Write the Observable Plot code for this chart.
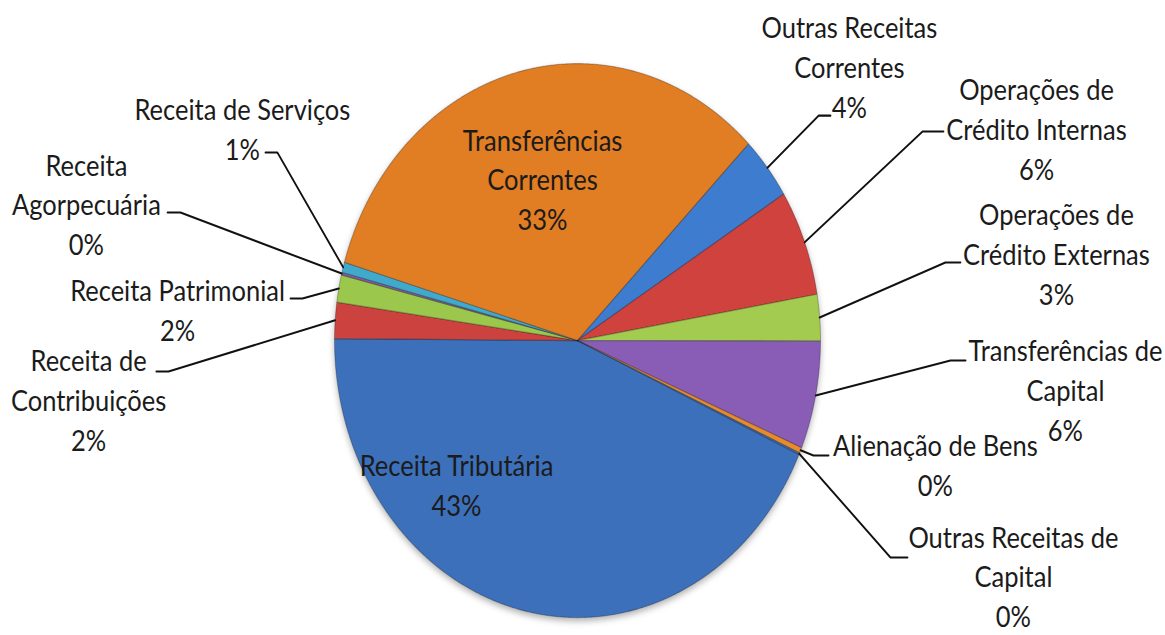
<!DOCTYPE html>
<html><head><meta charset="utf-8">
<script src="https://cdn.jsdelivr.net/npm/d3@7"></script>
<script src="https://cdn.jsdelivr.net/npm/@observablehq/plot@0.6"></script>
<style>
html,body{margin:0;padding:0;background:#fff;overflow:hidden}
#chart{width:1165px;height:635px;overflow:hidden}
#chart svg{transform-origin:0 0;transform:scaleY(1.14);display:block}
</style></head><body><div id="chart"></div>
<script>
// ---- data ----
const categories = ["Receita Tributária","Receita de Contribuições","Receita Patrimonial","Receita Agorpecuária","Receita de Serviços","Transferências Correntes","Outras Receitas Correntes","Operações de Crédito Internas","Operações de Crédito Externas","Transferências de Capital","Alienação de Bens","Outras Receitas de Capital"];
const values = [43.4, 2.1, 1.6, 0.15, 0.6, 32.9, 3.7, 6.2, 2.7, 6.3, 0.33, 0.1];
const colors = ["#3c70ba","#cb423f","#9cc74d","#7f5fa8","#41a9cc","#e17d22","#3d7ccf","#cf423e","#a3cb50","#895cb6","#e88a2e","#3c70ba"];
// displayed label text (line breaks as in the reference)
const labelText = ["Receita Tributária","Receita de\nContribuições","Receita Patrimonial","Receita\nAgorpecuária","Receita de Serviços","Transferências\nCorrentes","Outras Receitas\nCorrentes","Operações de\nCrédito Internas","Operações de\nCrédito Externas","Transferências de\nCapital","Alienação de Bens","Outras Receitas de\nCapital"];
// ---- label layout, in pie-radius units ----
const labelX = [-0.498,-2.012,-1.646,-2.021,-1.379,-0.144,1.119,1.889,1.971,2.008,1.473,1.794];
const labelY = [-0.514,-0.209,0.116,0.498,0.769,0.588,0.993,0.769,0.318,-0.173,-0.444,-0.845];
const leaderStartX = [null,-1.733,-1.181,-1.687,-1.284,null,1.041,1.506,1.576,1.597,1.033,1.358];
const leaderElbowX = [null,-1.683,-1.132,-1.634,-1.235,null,0.992,1.420,1.514,1.535,0.971,1.288];
const leaderY     = [null,-0.112,0.152,0.462,0.679,null,0.812,0.755,0.282,-0.072,-0.415,-0.783];
const startDeg = 114.3;

const total = d3.sum(values);
const pct = values.map(v => Math.round(v / total * 100) + "%");
const arcs = d3.pie().sort(null).value(d => d)
  .startAngle(startDeg * Math.PI / 180)
  .endAngle(startDeg * Math.PI / 180 + 2 * Math.PI)(values);

const slices = [];
arcs.forEach((a, i) => {
  const name = categories[i];
  slices.push({name, x: 0, y: 0});
  const n = Math.max(2, Math.ceil((a.endAngle - a.startAngle) / 0.004));
  for (let k = 0; k <= n; k++) {
    const t = a.startAngle + (a.endAngle - a.startAngle) * k / n;
    slices.push({name, x: Math.sin(t), y: Math.cos(t)});
  }
  slices.push({name, x: 0, y: 0});
});

const leaders = [];
arcs.forEach((a, i) => {
  if (leaderStartX[i] == null) return;
  const m = (a.startAngle + a.endAngle) / 2;
  leaders.push({id: i, x: leaderStartX[i], y: leaderY[i]});
  leaders.push({id: i, x: leaderElbowX[i], y: leaderY[i]});
  leaders.push({id: i, x: Math.sin(m), y: Math.cos(m)});
});

const labels = categories.map((c, i) => ({text: labelText[i] + "\n" + pct[i], x: labelX[i], y: labelY[i]}));

const S = 1.14;
const H = 635 / S;
const cy = 340 / S, r = 277 / S;

const chart = Plot.plot({
  width: 1165, height: H,
  margin: 0,
  style: {fontFamily: "Lato, sans-serif", background: "#fff"},
  x: {domain: [-1, 1], range: [334, 820], axis: null},
  y: {domain: [-1, 1], range: [cy + r, cy - r], axis: null},
  color: {type: "ordinal", domain: categories, range: colors},
  marks: [
    Plot.line(slices, {x: "x", y: "y", z: "name", fill: "name", stroke: "#000", strokeOpacity: 0.25, strokeWidth: 1, curve: "linear"}),
    Plot.line(leaders, {x: "x", y: "y", z: "id", stroke: "#111", strokeWidth: 1.8, curve: "linear"}),
    Plot.text(labels, {x: "x", y: "y", text: "text", fill: "#1b1b1b", fontSize: 25.5, lineHeight: 1.37, textAnchor: "middle", lineAnchor: "middle"})
  ]
});
const pieGroup = chart.querySelector('g[aria-label="line"]');
if (pieGroup) pieGroup.style.filter = "drop-shadow(0px 3px 3px rgba(0,0,0,0.3))";
document.getElementById("chart").appendChild(chart);
</script></body></html>
